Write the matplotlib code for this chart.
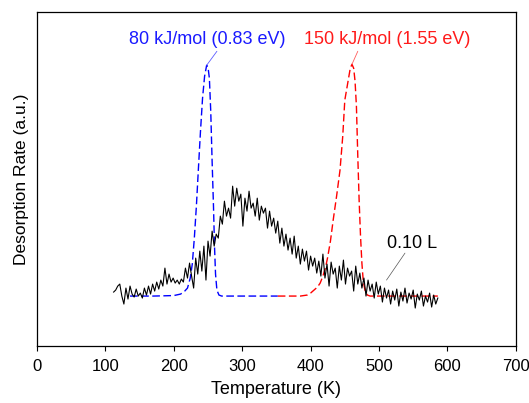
import matplotlib
matplotlib.use('Agg')
import matplotlib.pyplot as plt

plt.rcParams['font.family'] = ['Liberation Sans', 'DejaVu Sans']

# measured TPD trace (arbitrary units)
temp = [112, 115, 118, 121, 124, 127, 130, 133, 136, 139, 142, 145, 148, 151, 154, 157,
        160, 163, 166, 169, 172, 175, 178, 181, 184, 187, 190, 193, 196, 199, 202, 205,
        208, 211, 214, 217, 220, 223, 226, 229, 232, 235, 238, 241, 244, 247, 250, 253,
        256, 259, 262, 265, 268, 271, 274, 277, 280, 283, 286, 289, 292, 295, 298, 301,
        304, 307, 310, 313, 316, 319, 322, 325, 328, 331, 334, 337, 340, 343, 346, 349,
        352, 355, 358, 361, 364, 367, 370, 373, 376, 379, 382, 385, 388, 391, 394, 397,
        400, 403, 406, 409, 412, 415, 418, 421, 424, 427, 430, 433, 436, 439, 442, 445,
        448, 451, 454, 457, 460, 463, 466, 469, 472, 475, 478, 481, 484, 487, 490, 493,
        496, 499, 502, 505, 508, 511, 514, 517, 520, 523, 526, 529, 532, 535, 538, 541,
        544, 547, 550, 553, 556, 559, 562, 565, 568, 571, 574, 577, 580, 583, 586]
rate = [54, 56, 60, 62, 50, 42, 58, 47, 60, 52, 49, 57, 50, 53, 48, 58,
        51, 60, 52, 62, 55, 64, 57, 66, 60, 78, 62, 72, 64, 68, 63, 66,
        62, 67, 64, 78, 68, 83, 70, 58, 88, 72, 95, 75, 100, 66, 105, 90,
        115, 100, 112, 108, 130, 122, 145, 130, 138, 128, 160, 140, 158, 145, 152, 120,
        148, 135, 155, 138, 143, 130, 148, 126, 140, 133, 138, 118, 135, 120, 128, 113,
        125, 103, 118, 100, 112, 96, 108, 92, 110, 88, 100, 82, 97, 85, 95, 76,
        90, 80, 88, 73, 85, 70, 92, 68, 82, 60, 84, 72, 78, 58, 80, 66,
        86, 62, 78, 70, 75, 55, 80, 62, 73, 58, 68, 50, 66, 55, 62, 48,
        64, 52, 60, 44, 58, 48, 56, 42, 55, 46, 57, 40, 54, 45, 58, 43,
        53, 47, 56, 38, 52, 46, 55, 40, 50, 44, 53, 39, 51, 42, 48]

# simulated desorption peak, 80 kJ/mol
temp_80 = [136, 170, 200, 210, 216, 220, 224, 227, 230, 233, 236, 239, 242, 245, 248,
           250, 252, 254, 256, 258, 259.5, 261, 263, 266, 270, 300, 352]
rate_80 = [50, 50, 50.5, 52, 55, 58, 68, 82, 108, 140, 178, 215, 248, 270, 281,
           279, 268, 235, 185, 140, 100, 72, 56, 51, 50, 50, 50]

# simulated desorption peak, 150 kJ/mol
temp_150 = [352, 370, 385, 395, 400, 405, 410, 414, 418, 422, 425, 429, 433, 438, 443,
            447, 450, 455, 458, 460.5, 463, 465, 467, 469, 471, 473, 475, 477, 479.5,
            483, 487, 520, 586]
rate_150 = [50, 50, 50, 51, 53, 56, 59, 63, 70, 79, 89, 105, 126, 150, 176,
            210, 246, 266, 278, 282, 278, 265, 240, 190, 145, 110, 83, 65, 56,
            51, 50, 50, 50]

fig = plt.figure(figsize=(5.29, 4.03), dpi=100)
ax = fig.add_axes([0.070, 0.1414, 0.905, 0.828])

ax.plot(temp_80, rate_80, color='#0000ff', lw=1.0, dashes=(5.5, 2.5))
ax.plot(temp_150, rate_150, color='#ff0000', lw=1.0, dashes=(5.5, 2.5))
ax.plot(temp, rate, color='black', lw=0.8)

ax.set_xlim(0, 700)
ax.set_ylim(0, 334)
ax.set_xticks(range(0, 701, 100))
ax.set_yticks([])
ax.tick_params(axis='x', direction='out', length=3.6, width=0.8, labelsize=12, pad=6)
for s in ax.spines.values():
    s.set_linewidth(0.9)

ax.set_xlabel('Temperature (K)', fontsize=13, labelpad=5)
ax.set_ylabel('Desorption Rate (a.u.)', fontsize=12.5, labelpad=6)

# labels and leader lines
ax.text(249, 307, '80 kJ/mol (0.83 eV)', color='#1a1aff', fontsize=13,
        ha='center', va='center')
ax.annotate('', xy=(248, 281), xytext=(263, 295),
            arrowprops=dict(arrowstyle='-', color='#5c5cff', lw=0.6, shrinkA=0, shrinkB=0))
ax.text(512, 307, '150 kJ/mol (1.55 eV)', color='#ff1a1a', fontsize=13,
        ha='center', va='center')
ax.annotate('', xy=(460.5, 282), xytext=(469, 295),
            arrowprops=dict(arrowstyle='-', color='#ff5c5c', lw=0.6, shrinkA=0, shrinkB=0))
ax.text(548, 103, '0.10 L', color='black', fontsize=13, ha='center', va='center')
ax.annotate('', xy=(511, 66), xytext=(538, 93),
            arrowprops=dict(arrowstyle='-', color='#555555', lw=0.5, shrinkA=0, shrinkB=0))

fig.savefig('out.png', dpi=100)
